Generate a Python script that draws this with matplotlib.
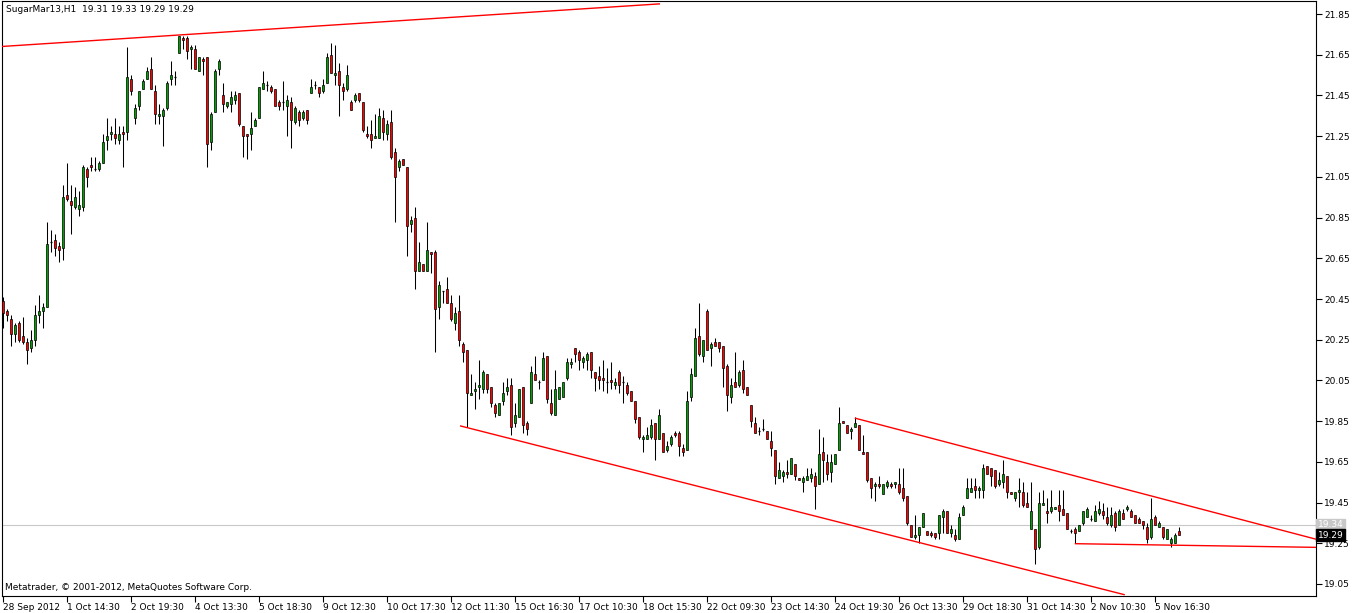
import matplotlib
matplotlib.use("Agg")
import matplotlib.pyplot as plt
import matplotlib.transforms as mtransforms
import numpy as np

# ===== H1 bars, SugarMar13 =====
opens = [
    20.44, 20.39, 20.35, 20.28, 20.33, 20.27, 20.24, 20.21, 20.25, 20.37,
    20.39, 20.41, 20.73, 20.74, 20.71, 20.70, 20.96, 20.93, 20.90, 20.89,
    20.90, 21.09, 21.11, 21.09, 21.09, 21.12, 21.23, 21.26, 21.26, 21.23,
    21.27, 21.27, 21.53, 21.34, 21.40, 21.48, 21.53, 21.58, 21.47, 21.35,
    21.35, 21.39, 21.53, 21.54, 21.66, 21.73, 21.73, 21.68, 21.68, 21.57,
    21.63, 21.64, 21.22, 21.37, 21.58, 21.45, 21.40, 21.41, 21.43, 21.46,
    21.30, 21.26, 21.26, 21.30, 21.34, 21.48, 21.50, 21.49, 21.48, 21.42,
    21.42, 21.40, 21.42, 21.32, 21.37, 21.34, 21.38, 21.46, 21.50, 21.49,
    21.47, 21.51, 21.65, 21.55, 21.57, 21.49, 21.48, 21.42, 21.43, 21.46,
    21.42, 21.26, 21.26, 21.24, 21.24, 21.34, 21.26, 21.32, 21.17, 21.10,
    21.14, 21.10, 20.82, 20.85, 20.59, 20.62, 20.59, 20.68, 20.68, 20.41,
    20.49, 20.50, 20.43, 20.33, 20.39, 20.23, 20.20, 19.98, 20.00, 20.02,
    20.01, 20.08, 20.02, 19.93, 19.88, 19.95, 20.00, 20.03, 19.84, 19.87,
    20.02, 19.84, 19.94, 20.08, 20.04, 20.05, 20.17, 19.94, 19.88, 19.96,
    19.97, 20.06, 20.13, 20.21, 20.19, 20.14, 20.15, 20.19, 20.09, 20.07,
    20.06, 20.04, 20.05, 20.03, 20.09, 20.04, 20.03, 20.00, 19.95, 19.87,
    19.76, 19.76, 19.77, 19.84, 19.76, 19.79, 19.71, 19.74, 19.79, 19.79,
    19.72, 19.71, 19.97, 20.07, 20.27, 20.17, 20.39, 20.21, 20.24, 20.24,
    20.22, 20.12, 19.97, 20.04, 20.03, 20.10, 20.02, 19.93, 19.84, 19.80,
    19.81, 19.80, 19.75, 19.71, 19.57, 19.58, 19.60, 19.59, 19.64, 19.57,
    19.55, 19.56, 19.57, 19.58, 19.54, 19.70, 19.65, 19.60, 19.64, 19.71,
    19.85, 19.83, 19.80, 19.82, 19.83, 19.70, 19.70, 19.57, 19.53, 19.54,
    19.49, 19.53, 19.54, 19.54, 19.54, 19.52, 19.48, 19.34, 19.28, 19.29,
    19.33, 19.31, 19.30, 19.30, 19.30, 19.38, 19.41, 19.30, 19.29, 19.27,
    19.39, 19.47, 19.50, 19.53, 19.51, 19.51, 19.63, 19.62, 19.61, 19.54,
    19.55, 19.58, 19.50, 19.47, 19.50, 19.50, 19.45, 19.32, 19.32, 19.23,
    19.44, 19.41, 19.41, 19.42, 19.44, 19.42, 19.40, 19.31, 19.32, 19.31,
    19.35, 19.38, 19.37, 19.36, 19.40, 19.41, 19.38, 19.34, 19.40, 19.34,
    19.40, 19.42, 19.41, 19.39, 19.37, 19.36, 19.33, 19.28, 19.38, 19.33,
    19.33, 19.27, 19.25, 19.25, 19.31,
]
highs = [
    20.46, 20.40, 20.37, 20.33, 20.34, 20.36, 20.26, 20.30, 20.42, 20.47,
    20.43, 20.83, 20.79, 20.77, 20.73, 21.01, 21.12, 21.01, 21.00, 20.98,
    21.11, 21.10, 21.15, 21.15, 21.13, 21.26, 21.34, 21.30, 21.34, 21.30,
    21.30, 21.69, 21.55, 21.41, 21.47, 21.53, 21.59, 21.64, 21.50, 21.41,
    21.39, 21.52, 21.62, 21.57, 21.74, 21.74, 21.74, 21.70, 21.70, 21.64,
    21.64, 21.64, 21.37, 21.58, 21.63, 21.51, 21.42, 21.47, 21.47, 21.46,
    21.30, 21.26, 21.37, 21.34, 21.49, 21.57, 21.52, 21.50, 21.48, 21.43,
    21.52, 21.45, 21.44, 21.40, 21.38, 21.38, 21.38, 21.53, 21.52, 21.49,
    21.53, 21.66, 21.71, 21.70, 21.61, 21.51, 21.60, 21.43, 21.46, 21.46,
    21.42, 21.30, 21.33, 21.36, 21.39, 21.38, 21.33, 21.38, 21.19, 21.14,
    21.14, 21.10, 20.86, 20.90, 20.73, 20.62, 20.83, 20.68, 20.69, 20.54,
    20.49, 20.56, 20.47, 20.41, 20.47, 20.24, 20.20, 20.08, 20.04, 20.15,
    20.10, 20.08, 20.02, 19.94, 19.94, 20.04, 20.06, 20.06, 19.94, 20.01,
    20.02, 19.85, 20.12, 20.17, 20.05, 20.19, 20.17, 20.01, 20.10, 20.02,
    20.04, 20.16, 20.16, 20.21, 20.20, 20.17, 20.19, 20.19, 20.09, 20.12,
    20.15, 20.11, 20.14, 20.06, 20.10, 20.07, 20.04, 20.00, 19.95, 19.87,
    19.78, 19.82, 19.86, 19.84, 19.91, 19.79, 19.75, 19.78, 19.80, 19.80,
    19.74, 20.00, 20.11, 20.31, 20.43, 20.25, 20.40, 20.24, 20.26, 20.24,
    20.22, 20.13, 20.06, 20.19, 20.10, 20.15, 20.02, 19.93, 19.87, 19.82,
    19.86, 19.80, 19.80, 19.71, 19.65, 19.61, 19.66, 19.67, 19.64, 19.57,
    19.58, 19.62, 19.62, 19.60, 19.81, 19.77, 19.69, 19.69, 19.69, 19.92,
    19.85, 19.83, 19.82, 19.87, 19.83, 19.78, 19.70, 19.57, 19.55, 19.58,
    19.54, 19.56, 19.55, 19.55, 19.62, 19.62, 19.48, 19.34, 19.39, 19.33,
    19.40, 19.31, 19.31, 19.30, 19.39, 19.42, 19.41, 19.34, 19.32, 19.40,
    19.44, 19.57, 19.57, 19.57, 19.53, 19.64, 19.63, 19.62, 19.61, 19.60,
    19.66, 19.58, 19.50, 19.50, 19.57, 19.55, 19.50, 19.55, 19.32, 19.50,
    19.51, 19.47, 19.51, 19.43, 19.51, 19.51, 19.40, 19.32, 19.33, 19.34,
    19.41, 19.43, 19.39, 19.44, 19.46, 19.45, 19.43, 19.43, 19.41, 19.42,
    19.42, 19.44, 19.42, 19.39, 19.38, 19.36, 19.35, 19.47, 19.39, 19.36,
    19.33, 19.32, 19.28, 19.30, 19.33,
]
lows = [
    20.31, 20.34, 20.22, 20.24, 20.24, 20.23, 20.13, 20.19, 20.22, 20.33,
    20.31, 20.41, 20.68, 20.66, 20.63, 20.64, 20.93, 20.77, 20.89, 20.86,
    20.88, 21.00, 21.08, 21.08, 21.08, 21.12, 21.18, 21.23, 21.21, 21.21,
    21.10, 21.23, 21.45, 21.31, 21.38, 21.48, 21.53, 21.48, 21.31, 21.31,
    21.20, 21.38, 21.50, 21.50, 21.66, 21.68, 21.63, 21.58, 21.58, 21.57,
    21.55, 21.10, 21.18, 21.37, 21.55, 21.37, 21.39, 21.37, 21.41, 21.30,
    21.15, 21.14, 21.18, 21.30, 21.34, 21.48, 21.47, 21.46, 21.40, 21.38,
    21.38, 21.25, 21.19, 21.31, 21.30, 21.33, 21.31, 21.46, 21.48, 21.44,
    21.46, 21.51, 21.56, 21.50, 21.35, 21.43, 21.47, 21.38, 21.42, 21.42,
    21.27, 21.24, 21.19, 21.24, 21.24, 21.23, 21.23, 21.14, 20.83, 21.08,
    21.11, 20.66, 20.78, 20.50, 20.59, 20.59, 20.59, 20.58, 20.19, 20.35,
    20.43, 20.43, 20.34, 20.30, 20.22, 20.14, 19.82, 19.98, 19.91, 19.96,
    19.99, 19.99, 19.92, 19.87, 19.88, 19.93, 19.98, 19.78, 19.82, 19.87,
    19.79, 19.78, 19.94, 20.05, 20.01, 20.05, 19.94, 19.88, 19.88, 19.96,
    19.97, 20.05, 20.11, 20.14, 20.10, 20.11, 20.10, 20.06, 20.00, 20.01,
    20.00, 19.99, 20.01, 20.01, 19.99, 19.94, 19.98, 19.95, 19.84, 19.76,
    19.70, 19.76, 19.76, 19.66, 19.76, 19.70, 19.70, 19.73, 19.77, 19.68,
    19.68, 19.71, 19.95, 20.07, 20.17, 20.14, 20.20, 20.12, 20.22, 20.19,
    20.02, 19.90, 19.94, 20.02, 20.02, 19.99, 19.98, 19.82, 19.79, 19.78,
    19.80, 19.76, 19.68, 19.54, 19.57, 19.55, 19.57, 19.59, 19.56, 19.56,
    19.50, 19.56, 19.55, 19.42, 19.54, 19.55, 19.56, 19.55, 19.64, 19.71,
    19.84, 19.79, 19.76, 19.82, 19.71, 19.69, 19.55, 19.47, 19.46, 19.52,
    19.49, 19.52, 19.52, 19.52, 19.49, 19.46, 19.34, 19.28, 19.27, 19.25,
    19.33, 19.29, 19.28, 19.27, 19.27, 19.30, 19.30, 19.28, 19.26, 19.27,
    19.39, 19.47, 19.50, 19.47, 19.47, 19.47, 19.59, 19.53, 19.52, 19.53,
    19.52, 19.47, 19.49, 19.46, 19.43, 19.43, 19.43, 19.32, 19.15, 19.22,
    19.44, 19.35, 19.40, 19.42, 19.36, 19.39, 19.32, 19.30, 19.25, 19.31,
    19.34, 19.38, 19.36, 19.36, 19.39, 19.37, 19.34, 19.33, 19.31, 19.34,
    19.37, 19.41, 19.38, 19.35, 19.35, 19.32, 19.25, 19.27, 19.34, 19.33,
    19.27, 19.27, 19.23, 19.25, 19.29,
]
closes = [
    20.38, 20.37, 20.28, 20.32, 20.25, 20.24, 20.20, 20.25, 20.37, 20.39,
    20.41, 20.72, 20.73, 20.70, 20.69, 20.95, 20.94, 20.91, 20.95, 20.91,
    21.10, 21.05, 21.10, 21.09, 21.12, 21.22, 21.25, 21.27, 21.24, 21.26,
    21.26, 21.54, 21.47, 21.39, 21.47, 21.52, 21.57, 21.48, 21.36, 21.36,
    21.38, 21.51, 21.55, 21.54, 21.74, 21.72, 21.67, 21.69, 21.58, 21.64,
    21.62, 21.21, 21.36, 21.57, 21.62, 21.41, 21.42, 21.44, 21.45, 21.31,
    21.25, 21.25, 21.29, 21.33, 21.49, 21.51, 21.50, 21.47, 21.40, 21.40,
    21.42, 21.43, 21.33, 21.39, 21.33, 21.37, 21.33, 21.49, 21.50, 21.46,
    21.50, 21.64, 21.56, 21.56, 21.50, 21.47, 21.55, 21.38, 21.45, 21.43,
    21.28, 21.25, 21.23, 21.25, 21.35, 21.27, 21.31, 21.15, 21.05, 21.13,
    21.11, 20.81, 20.84, 20.59, 20.63, 20.59, 20.69, 20.67, 20.40, 20.52,
    20.49, 20.43, 20.35, 20.38, 20.25, 20.19, 19.99, 19.99, 20.01, 20.03,
    20.09, 20.01, 19.94, 19.89, 19.94, 19.99, 20.02, 19.82, 19.88, 20.01,
    19.83, 19.81, 20.09, 20.05, 20.04, 20.16, 19.96, 19.89, 20.01, 20.02,
    20.04, 20.14, 20.14, 20.18, 20.15, 20.16, 20.18, 20.10, 20.06, 20.05,
    20.05, 20.04, 20.04, 20.04, 20.03, 20.04, 19.99, 19.95, 19.86, 19.77,
    19.77, 19.78, 19.83, 19.76, 19.88, 19.70, 19.73, 19.77, 19.78, 19.73,
    19.70, 19.95, 20.08, 20.26, 20.18, 20.25, 20.20, 20.23, 20.22, 20.21,
    20.11, 19.98, 20.03, 20.02, 20.09, 20.01, 19.98, 19.85, 19.79, 19.80,
    19.81, 19.76, 19.72, 19.58, 19.61, 19.60, 19.59, 19.67, 19.58, 19.56,
    19.57, 19.58, 19.59, 19.53, 19.69, 19.66, 19.59, 19.65, 19.69, 19.84,
    19.84, 19.79, 19.81, 19.84, 19.71, 19.69, 19.56, 19.52, 19.54, 19.53,
    19.54, 19.55, 19.53, 19.55, 19.50, 19.47, 19.35, 19.28, 19.29, 19.33,
    19.40, 19.29, 19.29, 19.28, 19.39, 19.41, 19.30, 19.32, 19.27, 19.38,
    19.43, 19.52, 19.52, 19.51, 19.52, 19.62, 19.59, 19.58, 19.53, 19.56,
    19.59, 19.50, 19.49, 19.50, 19.51, 19.44, 19.43, 19.41, 19.22, 19.45,
    19.45, 19.40, 19.43, 19.43, 19.41, 19.39, 19.32, 19.31, 19.30, 19.34,
    19.41, 19.42, 19.37, 19.41, 19.42, 19.39, 19.35, 19.39, 19.33, 19.41,
    19.37, 19.43, 19.38, 19.35, 19.35, 19.34, 19.27, 19.37, 19.34, 19.35,
    19.28, 19.32, 19.27, 19.29, 19.29,
]

# time axis labels, placed at bar index
date_labels = [
    "28 Sep 2012", "1 Oct 14:30", "2 Oct 19:30", "4 Oct 13:30", "5 Oct 18:30",
    "9 Oct 12:30", "10 Oct 17:30", "12 Oct 11:30", "15 Oct 16:30", "17 Oct 10:30",
    "18 Oct 15:30", "22 Oct 09:30", "23 Oct 14:30", "24 Oct 19:30", "26 Oct 13:30",
    "29 Oct 18:30", "31 Oct 14:30", "2 Nov 10:30", "5 Nov 16:30",
]
date_bars = [0, 16, 32, 48, 64, 80, 96, 112, 128, 144,
             160, 176, 192, 208, 224, 240, 256, 272, 288]
price_ticks = [19.05, 19.25, 19.45, 19.65, 19.85, 20.05, 20.25, 20.45,
               20.65, 20.85, 21.05, 21.25, 21.45, 21.65, 21.85]

# trend lines drawn by hand on the chart: (bar index, price)
top_line_bars = [-0.8, 164.2]
top_line_prices = [21.69, 21.90]
channel_low_bars = [114.2, 280.4]
channel_low_prices = [19.827, 18.997]
channel_high_bars = [212.9, 328.2]
channel_high_prices = [19.865, 19.27]
support_bars = [267.9, 328.2]
support_prices = [19.248, 19.23]

bid_price = 19.29
ask_price = 19.34
title = "SugarMar13,H1  19.31 19.33 19.29 19.29"

# ===== figure =====
plt.rcParams["font.family"] = ["DejaVu Sans"]
fs = 6.5

fig = plt.figure(figsize=(13.56, 6.13), dpi=100)
ax = fig.add_axes([2 / 1356, 17 / 613, 1314 / 1356, 595 / 613])

o = np.array(opens)
h = np.array(highs)
l = np.array(lows)
c = np.array(closes)
x = np.arange(len(o))

ax.axhline(ask_price, color="#c8c8c8", lw=0.8, zorder=1)

ax.vlines(x, l, h, color="black", lw=0.75, zorder=2)

bull = c > o
bear = c < o
doji = c == o
w = 0.55
ax.bar(x[bull], (c - o)[bull], bottom=o[bull], width=w, color="#00a000",
       edgecolor="black", linewidth=0.5, zorder=3)
ax.bar(x[bear], (o - c)[bear], bottom=c[bear], width=w, color="#ff0000",
       edgecolor="black", linewidth=0.5, zorder=3)
ax.hlines(c[doji], x[doji] - w / 2, x[doji] + w / 2, color="black", lw=0.9, zorder=3)

for bx, py in [(top_line_bars, top_line_prices),
               (channel_low_bars, channel_low_prices),
               (channel_high_bars, channel_high_prices),
               (support_bars, support_prices)]:
    ax.plot(bx, py, color="#ff0000", lw=1.0, zorder=4, solid_capstyle="butt")

ax.set_xlim(-0.3, 328.2)
ax.set_ylim(18.991, 21.914)

# right price scale
ax.yaxis.tick_right()
ax.set_yticks(price_ticks)
ax.set_yticklabels([f"{p:.2f}" for p in price_ticks])
ax.tick_params(axis="y", direction="out", length=4, width=0.8, labelsize=fs, pad=2)

# bottom time scale
ax.set_xticks(date_bars)
ax.set_xticklabels(date_labels, ha="left")
ax.tick_params(axis="x", direction="out", length=4, width=0.8, labelsize=fs, pad=1)

for s in ax.spines.values():
    s.set_color("black")
    s.set_linewidth(0.8)

ax.text(0.003, 0.993, title, transform=ax.transAxes, fontsize=fs, va="top", ha="left")
ax.text(0.002, 0.014, "Metatrader, \u00a9 2001-2012, MetaQuotes Software Corp.",
        transform=ax.transAxes, fontsize=fs, va="center", ha="left")

# current price labels on the scale
trans = mtransforms.blended_transform_factory(ax.transAxes, ax.transData)
ax.text(1.0015, ask_price, f"{ask_price:.2f}", transform=trans, color="white",
        fontsize=fs, va="center", ha="left", clip_on=False, zorder=10,
        bbox=dict(facecolor="#c8c8c8", edgecolor="#c8c8c8", pad=1.2))
ax.text(1.0015, bid_price, f"{bid_price:.2f}", transform=trans, color="white",
        fontsize=fs, va="center", ha="left", clip_on=False, zorder=11,
        bbox=dict(facecolor="black", edgecolor="black", pad=1.2))

fig.savefig("out.png", dpi=100, facecolor="white")
